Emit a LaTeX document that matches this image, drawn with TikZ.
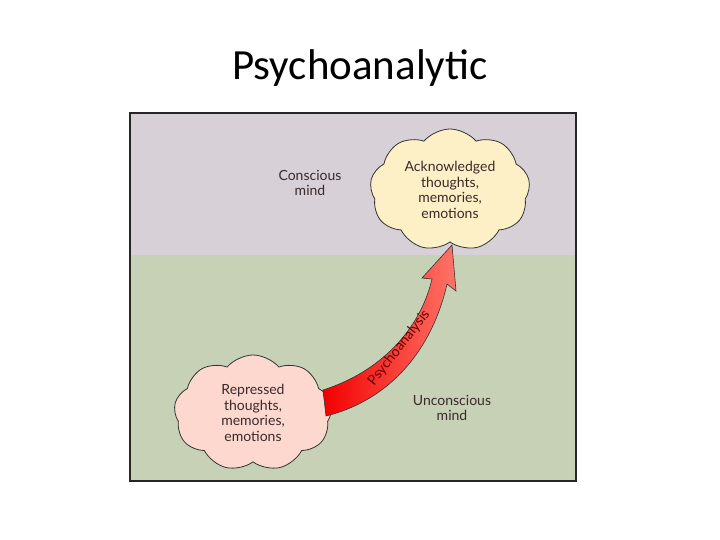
\documentclass[tikz,border=0pt]{standalone}
\usepackage{fontspec}
\setmainfont{Carlito}
\newfontfamily\gill{Lato}
\usetikzlibrary{shapes.symbols}
\definecolor{topband}{HTML}{D8D0D7}
\definecolor{botband}{HTML}{C6D1B6}
\definecolor{pinkc}{HTML}{FCD8CE}
\definecolor{yelc}{HTML}{FDF0C6}
\definecolor{txt}{HTML}{3A2A2A}
\tikzset{
  lab/.style={font=\gill\fontsize{14}{15.5}\selectfont, text=txt, align=center},
  cl/.style={cloud, cloud puffs=9, cloud puff arc=100, aspect=1.4, draw=black!80, line width=0.8pt, inner sep=0pt},
}
\begin{document}
\begin{tikzpicture}[x=1pt,y=-1pt]
\useasboundingbox (0,0) rectangle (720,540);
\fill[white] (0,0) rectangle (720,540);
\node (title) at (360,68) {\fontsize{43}{46}\selectfont Psychoanalytic};
\fill[topband] (130,113) rectangle (576,255);
\fill[botband] (130,255) rectangle (576,481);
\draw[line width=1.2pt, black!85] (130,113) rectangle (576,481);
\node[lab] (conscious) at (310,183) {Conscious\\mind};
\node[lab] (unconscious) at (452,408) {Unconscious\\mind};
\node[cl, fill=yelc, minimum width=160, minimum height=122] (ack) at (450,190) {};
\node[lab] at (ack) {Acknowledged\\thoughts,\\memories,\\emotions};
\node[cl, fill=pinkc, minimum width=158, minimum height=116] (rep) at (253,413) {};
\node[lab] at (rep) {Repressed\\thoughts,\\memories,\\emotions};
\draw[draw=black!80, line width=0.6pt, left color=red!95!black, right color=red!55!white!90!orange]
  (323,390) .. controls (380,372) and (420,330) .. (432,279)
  -- (422,278) -- (452,245) -- (456,291) -- (447,284)
  .. controls (432,350) and (390,400) .. (326,416) -- cycle;
\node[font=\gill\fontsize{14}{15}\selectfont, text=red!40!black, rotate=52, inner sep=0pt] (psy) at (399,348) {Psychoanalysis};
\end{tikzpicture}
\end{document}
